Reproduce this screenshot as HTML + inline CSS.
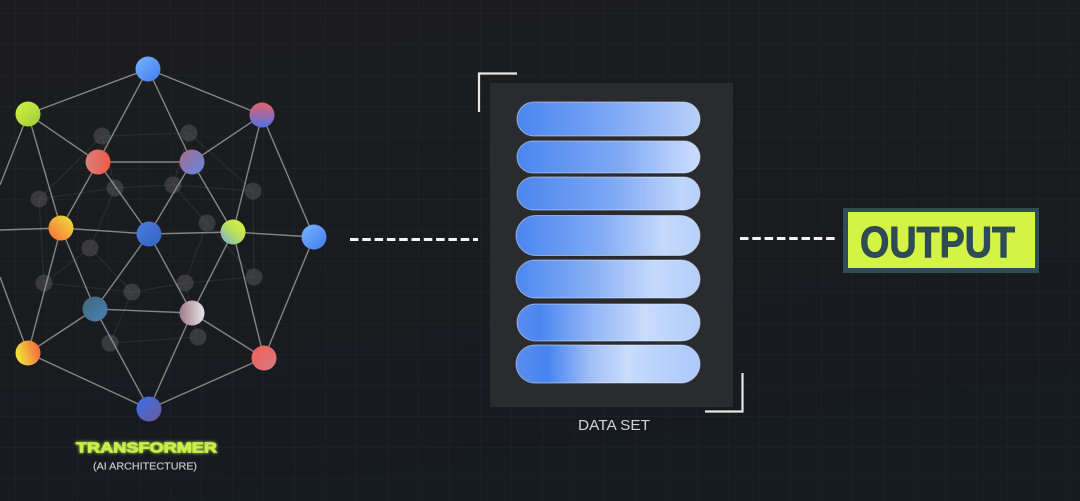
<!DOCTYPE html>
<html><head><meta charset="utf-8"><style>
html,body{margin:0;padding:0;background:#1b1c1f;}
svg{display:block;}
</style></head><body>
<svg width="1080" height="501" viewBox="0 0 1080 501" xmlns="http://www.w3.org/2000/svg">
<defs>
<linearGradient id="bg" x1="0" y1="0" x2="0.3" y2="1">
<stop offset="0" stop-color="#1c1c1e"/><stop offset="0.6" stop-color="#1a1b1e"/><stop offset="1" stop-color="#161a21"/>
</linearGradient>
<pattern id="grid" width="31" height="31" patternUnits="userSpaceOnUse" x="15" y="13">
<path d="M0 0H31M0 0V31" stroke="#ffffff" stroke-opacity="0.03" stroke-width="1.5" fill="none"/>
</pattern>
<linearGradient id="gBlue" x1="0" y1="0" x2="1" y2="1"><stop offset="0" stop-color="#7ab4ff"/><stop offset="1" stop-color="#3e7cf0"/></linearGradient>
<linearGradient id="gYG" x1="0" y1="0" x2="1" y2="1"><stop offset="0" stop-color="#d4f23e"/><stop offset="1" stop-color="#9ccc3e"/></linearGradient>
<linearGradient id="gTR" x1="0" y1="0" x2="0" y2="1"><stop offset="0" stop-color="#e8606a"/><stop offset="1" stop-color="#4f74e8"/></linearGradient>
<linearGradient id="gRed" x1="0" y1="0" x2="1" y2="0"><stop offset="0" stop-color="#d8807a"/><stop offset="1" stop-color="#f05848"/></linearGradient>
<linearGradient id="gPur" x1="0" y1="0" x2="1" y2="1"><stop offset="0" stop-color="#a86c88"/><stop offset="1" stop-color="#6088e8"/></linearGradient>
<linearGradient id="gOr" x1="1" y1="0" x2="0" y2="1"><stop offset="0" stop-color="#e8e83a"/><stop offset="1" stop-color="#ff6a3a"/></linearGradient>
<linearGradient id="gCen" x1="0" y1="0" x2="1" y2="1"><stop offset="0" stop-color="#4a7ee0"/><stop offset="1" stop-color="#3560c0"/></linearGradient>
<linearGradient id="gGr" x1="1" y1="0" x2="0" y2="1"><stop offset="0" stop-color="#e4f232"/><stop offset="0.5" stop-color="#b8e060"/><stop offset="1" stop-color="#70a8e8"/></linearGradient>
<linearGradient id="gTeal" x1="0" y1="0" x2="1" y2="1"><stop offset="0" stop-color="#3e6a78"/><stop offset="1" stop-color="#4a80b8"/></linearGradient>
<linearGradient id="gPW" x1="0" y1="0" x2="1" y2="0"><stop offset="0" stop-color="#a07a88"/><stop offset="1" stop-color="#e6e6e6"/></linearGradient>
<linearGradient id="gBL" x1="0" y1="0.3" x2="1" y2="0"><stop offset="0" stop-color="#f2e03a"/><stop offset="1" stop-color="#f6583e"/></linearGradient>
<linearGradient id="gBR" x1="0" y1="0" x2="1" y2="1"><stop offset="0" stop-color="#f06058"/><stop offset="1" stop-color="#d87a80"/></linearGradient>
<linearGradient id="gBot" x1="0" y1="0" x2="1" y2="1"><stop offset="0" stop-color="#3a70ee"/><stop offset="1" stop-color="#6a5a98"/></linearGradient>
<linearGradient id="b1" x1="0" y1="0" x2="1" y2="0"><stop offset="0" stop-color="#4a86f0"/><stop offset="0.45" stop-color="#74a2f4"/><stop offset="1" stop-color="#b8d0fa"/></linearGradient>
<linearGradient id="b2" x1="0" y1="0" x2="1" y2="0"><stop offset="0" stop-color="#4a86f0"/><stop offset="0.55" stop-color="#7ea8f4"/><stop offset="0.95" stop-color="#c6daff"/></linearGradient>
<linearGradient id="b3" x1="0" y1="0" x2="1" y2="0"><stop offset="0" stop-color="#4c86ee"/><stop offset="0.5" stop-color="#7aa6f4"/><stop offset="0.9" stop-color="#c0d6fb"/><stop offset="1" stop-color="#b8d0fa"/></linearGradient>
<linearGradient id="b4" x1="0" y1="0" x2="1" y2="0"><stop offset="0" stop-color="#4a86f0"/><stop offset="0.45" stop-color="#80aaf4"/><stop offset="0.8" stop-color="#c6dafc"/><stop offset="1" stop-color="#b8d0fa"/></linearGradient>
<linearGradient id="b5" x1="0" y1="0" x2="1" y2="0"><stop offset="0" stop-color="#4c88f0"/><stop offset="0.4" stop-color="#86aef4"/><stop offset="0.75" stop-color="#c6dafc"/><stop offset="1" stop-color="#b4cefa"/></linearGradient>
<linearGradient id="b6" x1="0" y1="0" x2="1" y2="0"><stop offset="0" stop-color="#5a8ef0"/><stop offset="0.12" stop-color="#4a86f0"/><stop offset="0.4" stop-color="#90b4f6"/><stop offset="0.7" stop-color="#c8dcfc"/><stop offset="1" stop-color="#b0ccfa"/></linearGradient>
<linearGradient id="b7" x1="0" y1="0" x2="1" y2="0"><stop offset="0" stop-color="#5a8ef0"/><stop offset="0.17" stop-color="#4684f0"/><stop offset="0.4" stop-color="#a0bef6"/><stop offset="0.6" stop-color="#c8dcfc"/><stop offset="1" stop-color="#aac8fa"/></linearGradient>
<filter id="glow" x="-20%" y="-50%" width="140%" height="200%"><feGaussianBlur stdDeviation="1.5" result="b"/><feMerge><feMergeNode in="b"/><feMergeNode in="SourceGraphic"/></feMerge></filter>
</defs>

<rect width="1080" height="501" fill="url(#bg)"/>
<rect width="1080" height="501" fill="url(#grid)"/>

<!-- back layer network -->
<g stroke="#8a8a8a" stroke-opacity="0.14" stroke-width="1.3" fill="none">
<path d="M102 136L189 133M39 199L115 188L173 185L253 191M44 283L132 292L185 283L254 277M110 343L198 337M39 199L44 283M253 191L254 277M102 136L39 199M189 133L253 191M115 188L90 248L44 283M173 185L207 223L254 277M132 292L110 343M185 283L198 337M90 248L132 292M207 223L185 283M115 188L173 185M102 136L115 188M189 133L173 185"/>
</g>
<g fill="#5a5a5c" fill-opacity="0.5">
<circle cx="102" cy="136" r="8.5"/><circle cx="189" cy="133" r="8.5"/><circle cx="39" cy="199" r="8.5"/>
<circle cx="115" cy="188" r="8.5"/><circle cx="173" cy="185" r="8.5"/><circle cx="253" cy="191" r="8.5"/>
<circle cx="207" cy="223" r="8.5"/><circle cx="90" cy="248" r="8.5"/><circle cx="44" cy="283" r="8.5"/>
<circle cx="132" cy="292" r="8.5"/><circle cx="185" cy="283" r="8.5"/><circle cx="254" cy="277" r="8.5"/>
<circle cx="110" cy="343" r="8.5"/><circle cx="198" cy="337" r="8.5"/>
</g>

<!-- front edges -->
<g stroke="#a8a8a8" stroke-opacity="0.75" stroke-width="1.4" fill="none">
<path d="M148 69L28 114M148 69L98 162M148 69L192 162M148 69L262 115
M28 114L98 162M28 114L61 228M28 114L0 185
M262 115L192 162M262 115L233 232M262 115L314 237
M98 162L192 162M98 162L61 228M98 162L149 234
M192 162L149 234M192 162L233 232
M61 228L149 234M61 228L0 230M61 228L95 309M61 228L28 353
M149 234L233 232M149 234L95 309M149 234L192 313
M233 232L314 237M233 232L192 313M233 232L264 358
M314 237L264 358
M95 309L192 313M95 309L28 353M95 309L149 409
M192 313L149 409M192 313L264 358
M28 353L149 409M264 358L149 409M28 353L0 277"/>
</g>

<!-- front nodes -->
<g>
<circle cx="148" cy="69" r="12.5" fill="url(#gBlue)"/>
<circle cx="28" cy="114" r="12.5" fill="url(#gYG)"/>
<circle cx="262" cy="115" r="12.5" fill="url(#gTR)"/>
<circle cx="98" cy="162" r="12.5" fill="url(#gRed)"/>
<circle cx="192" cy="162" r="12.5" fill="url(#gPur)"/>
<circle cx="61" cy="228" r="12.5" fill="url(#gOr)"/>
<circle cx="149" cy="234" r="12.5" fill="url(#gCen)"/>
<circle cx="233" cy="232" r="12.5" fill="url(#gGr)"/>
<circle cx="314" cy="237" r="12.5" fill="url(#gBlue)"/>
<circle cx="95" cy="309" r="12.5" fill="url(#gTeal)"/>
<circle cx="192" cy="313" r="12.5" fill="url(#gPW)"/>
<circle cx="28" cy="353" r="12.5" fill="url(#gBL)"/>
<circle cx="264" cy="358" r="12.5" fill="url(#gBR)"/>
<circle cx="149" cy="409" r="12.5" fill="url(#gBot)"/>
</g>

<text x="76" y="452.5" font-family="Liberation Sans, sans-serif" font-weight="bold" font-size="14.5" fill="#c6ef4a" stroke="#c6ef4a" stroke-width="0.8" textLength="141" lengthAdjust="spacingAndGlyphs" filter="url(#glow)">TRANSFORMER</text>
<text x="93" y="469.5" font-family="Liberation Sans, sans-serif" font-size="10.5" fill="#c4c4c4" stroke="#c4c4c4" stroke-width="0.2" textLength="104" lengthAdjust="spacingAndGlyphs">(AI ARCHITECTURE)</text>

<!-- dashed connectors -->
<line x1="350" y1="239.5" x2="478" y2="239.5" stroke="#f2f2f2" stroke-width="3" stroke-dasharray="8.5 3.8"/>
<line x1="740" y1="238.5" x2="838" y2="238.5" stroke="#f2f2f2" stroke-width="3" stroke-dasharray="8.5 3.8"/>

<!-- data set panel -->
<rect x="490" y="83" width="243" height="324" fill="#2a2b2e"/>
<path d="M479 112V73.5H517" stroke="#e6e6e6" stroke-width="2.2" fill="none"/>
<path d="M742.5 373V411.5H705" stroke="#e6e6e6" stroke-width="2.2" fill="none"/>
<g stroke="#dfe9ff" stroke-opacity="0.55" stroke-width="1">
<rect x="517" y="102" width="183" height="34" rx="17" fill="url(#b1)"/>
<rect x="517" y="141" width="183" height="32" rx="16" fill="url(#b2)"/>
<rect x="517" y="177" width="183" height="33" rx="16.5" fill="url(#b3)"/>
<rect x="516" y="215.5" width="184" height="40" rx="20" fill="url(#b4)"/>
<rect x="516" y="260" width="184" height="38" rx="19" fill="url(#b5)"/>
<rect x="517" y="304" width="183" height="37" rx="18.5" fill="url(#b6)"/>
<rect x="516" y="345" width="184" height="38" rx="19" fill="url(#b7)"/>
</g>
<text x="578" y="430" font-family="Liberation Sans, sans-serif" font-size="14.5" fill="#d2d2d2" textLength="72" lengthAdjust="spacingAndGlyphs">DATA SET</text>

<!-- output -->
<rect x="843" y="208" width="196" height="65" fill="#2f4d55"/>
<rect x="848" y="212" width="187" height="56" fill="#d3f445"/>
<text x="860" y="257" font-family="Liberation Sans, sans-serif" font-weight="bold" font-size="44" fill="#2f4b53" stroke="#2f4b53" stroke-width="1" textLength="155" lengthAdjust="spacingAndGlyphs">OUTPUT</text>
</svg>
</body></html>
